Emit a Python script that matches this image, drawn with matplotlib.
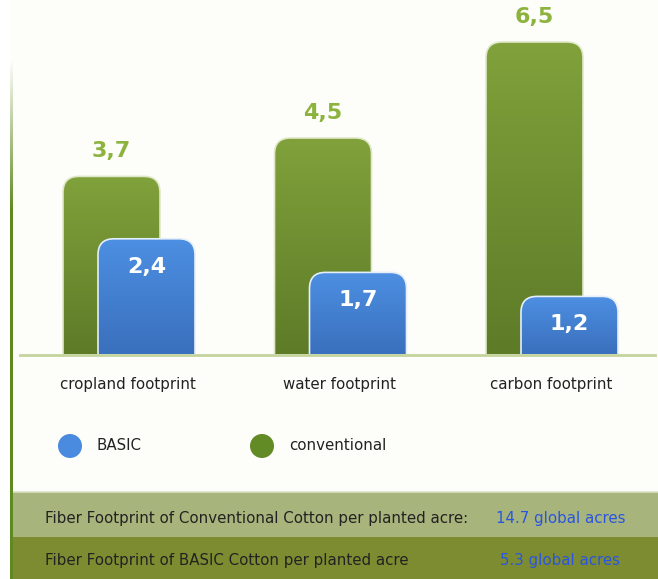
import numpy as np
import matplotlib
matplotlib.use("Agg")
import matplotlib.pyplot as plt
from matplotlib.patches import FancyBboxPatch, Rectangle, Circle
from matplotlib.colors import LinearSegmentedColormap, to_rgb

# ---- data ----
categories = ["cropland footprint", "water footprint", "carbon footprint"]
conventional = [3.7, 4.5, 6.5]
basic = [2.4, 1.7, 1.2]
conventional_labels = ["3,7", "4,5", "6,5"]
basic_labels = ["2,4", "1,7", "1,2"]
legend_names = ["BASIC", "conventional"]
footer_rows = [
    ("Fiber Footprint of Conventional Cotton per planted acre:", "14.7 global acres"),
    ("Fiber Footprint of BASIC Cotton per planted acre", "5.3 global acres"),
]

W, H = 658, 579
fig = plt.figure(figsize=(W / 100, H / 100), dpi=100)
fig.patch.set_facecolor("white")

# background overlay in pixel coordinates
bg = fig.add_axes([0, 0, 1, 1])
bg.set_xlim(0, W)
bg.set_ylim(H, 0)
bg.axis("off")
bg.add_patch(Rectangle((11, 0), W - 11, H, facecolor="#fdfdf9", edgecolor="none"))
# footer bands
bg.add_patch(Rectangle((11, 492), W - 11, 45, facecolor="#a7b47b", edgecolor="none"))
bg.add_patch(Rectangle((11, 537), W - 11, 42, facecolor="#7d8c31", edgecolor="none"))
bg.plot([11, W], [492, 492], color="#d9e0c4", lw=1.2)
# left border with fade at top (gradient strip)
rgb = to_rgb("#5e8a20")
alpha = np.clip((np.linspace(0, H, 300) - 60) / 150, 0, 1)
strip = np.zeros((300, 1, 4))
strip[:, 0, :3] = rgb
strip[:, 0, 3] = alpha
bg.imshow(strip, extent=(10, 12.5, H, 0), aspect="auto", interpolation="bilinear", zorder=3)
bg.set_xlim(0, W)
bg.set_ylim(H, 0)

# footer texts
FF = "DejaVu Sans"
for (lab, val), yy in zip(footer_rows, [519, 561]):
    bg.text(45, yy, lab, fontsize=10.8, family=FF, color="#222222",
            va="center", ha="left")
rights = [625, 620]
for (lab, val), yy, xr in zip(footer_rows, [519, 561], rights):
    bg.text(xr, yy, val, fontsize=10.8, family=FF, color="#2a55e0",
            va="center", ha="right")

# ---- bar axes ----
ax_left, ax_right = 20, 655
base_y = 354
px_per_cat = 211.5
cat0 = 129
ax = fig.add_axes([ax_left / W, (H - base_y) / H, (ax_right - ax_left) / W, base_y / H])
xmin = -(cat0 - ax_left) / px_per_cat
xmax = 2 + (ax_right - (cat0 + 2 * px_per_cat)) / px_per_cat
ppu = 312 / 6.5
ymax = base_y / ppu
ax.set_xlim(xmin, xmax)
ax.set_ylim(0, ymax)
ax.axis("off")

bar_w = 97 / px_per_cat
off = 17.5 / px_per_cat
r_px = 16
mut_aspect = (1 / ppu) / (1 / px_per_cat)
r_data = r_px / px_per_cat

green_cmap = LinearSegmentedColormap.from_list("g", ["#5e7b28", "#80a13b"])
blue_cmap = LinearSegmentedColormap.from_list("b", ["#3a70bd", "#4d8fe2"])


def rounded_bar(x_center, height, cmap, z, ec):
    x0 = x_center - bar_w / 2
    patch = FancyBboxPatch((x0, -1.0), bar_w, height + 1.0,
                           boxstyle=f"round,pad=0,rounding_size={r_data}",
                           mutation_aspect=mut_aspect,
                           facecolor="none", edgecolor=ec, lw=1.2, zorder=z + 0.5)
    ax.add_patch(patch)
    grad = np.linspace(0, 1, 100).reshape(-1, 1)
    im = ax.imshow(grad, cmap=cmap, origin="lower", aspect="auto",
                   extent=(x0, x0 + bar_w, 0, height), zorder=z)
    im.set_clip_path(patch)
    return patch


for i, (c, b) in enumerate(zip(conventional, basic)):
    rounded_bar(i - off, c, green_cmap, 2, "#dfe8c8")
    rounded_bar(i + off, b, blue_cmap, 4, "#e6eef8")
    ax.annotate(conventional_labels[i], (i - off, c), xytext=(0, 18), textcoords="offset points",
                ha="center", va="center", fontsize=16, fontweight="bold",
                color="#8db33f", family=FF)
    ax.annotate(basic_labels[i], (i + off, b), xytext=(0, -20), textcoords="offset points",
                ha="center", va="center", fontsize=16, fontweight="bold",
                color="white", family=FF, zorder=6)

ax.set_xlim(xmin, xmax)
ax.set_ylim(0, ymax)

# baseline
bg.plot([ax_left, ax_right], [base_y + 1, base_y + 1], color="#c3d49c", lw=2)

# category labels
for i, cat in enumerate(categories):
    xp = cat0 + i * px_per_cat
    bg.text(xp - 1, 384, cat, fontsize=10.8, family=FF, color="#222222",
            ha="center", va="center")

# legend
leg_colors = ["#4a8be0", "#628a25"]
for (cx, tx), name, col in zip([(70, 446), (262, 446)], legend_names, leg_colors):
    pass
for (cx, tx), name, col in zip([(70, 96), (262, 289)], legend_names, leg_colors):
    bg.add_patch(Circle((cx, 446), 12, facecolor=col, edgecolor="none"))
    bg.text(tx, 446, name, fontsize=10.8, family=FF, color="#222222",
            ha="left", va="center")

fig.savefig("out.png", dpi=100)
